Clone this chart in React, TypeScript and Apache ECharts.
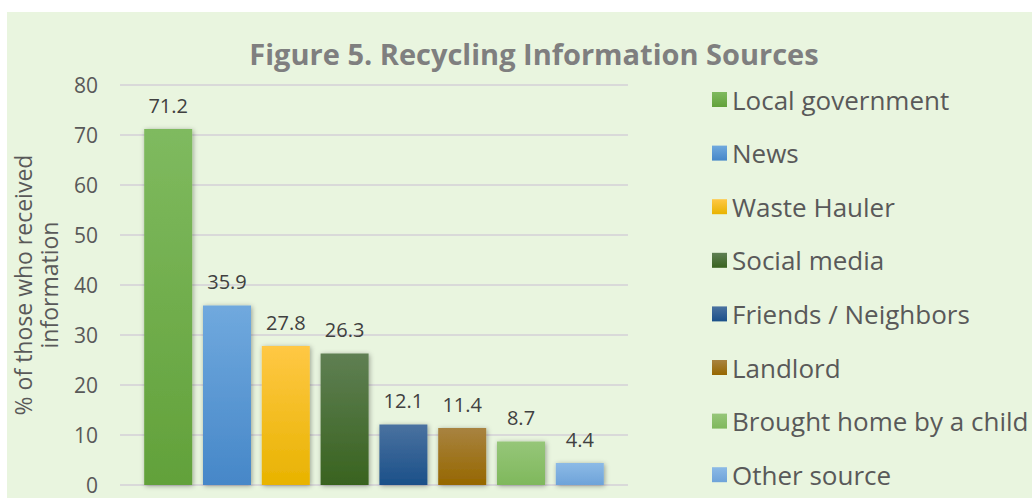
import React, { useEffect, useRef } from "react";
import * as echarts from "echarts";

const titleText = "Figure 5. Recycling Information Sources";
const yAxisTitle = "% of those who received\ninformation";
const sources = [
  "Local government",
  "News",
  "Waste Hauler",
  "Social media",
  "Friends / Neighbors",
  "Landlord",
  "Brought home by a child",
  "Other source",
];
const values = [71.2, 35.9, 27.8, 26.3, 12.1, 11.4, 8.7, 4.4];
const topColors = ["#7fba5f", "#70a9de", "#ffc845", "#5f7f53", "#4a72a0", "#a88340", "#96c679", "#8cbae6"];
const bottomColors = ["#62a13a", "#4687c8", "#e8b300", "#39631f", "#1b5089", "#966700", "#7fb85c", "#6ea3d9"];

const FONT = "'Open Sans', 'Noto Sans', sans-serif";

export default function App() {
  const ref = useRef<HTMLDivElement>(null);
  useEffect(() => {
    if (!ref.current) return;
    const chart = echarts.init(ref.current, undefined, { renderer: "svg" });
    const series = sources.map((name, i) => ({
      name,
      type: "bar",
      data: [values[i]],
      barWidth: 48,
      barGap: "22.5%",
      itemStyle: {
        color: new echarts.graphic.LinearGradient(0, 0, 0, 1, [
          { offset: 0, color: topColors[i] },
          { offset: 1, color: bottomColors[i] },
        ]),
        shadowBlur: 5,
        shadowOffsetX: 1,
        shadowOffsetY: 1,
        shadowColor: "rgba(0,0,0,0.35)",
      },
      label: {
        show: true,
        position: "top",
        distance: 14,
        fontFamily: FONT,
        fontSize: 20,
        color: "#404040",
      },
    }));
    chart.setOption({
      animation: false,
      backgroundColor: "#e9f5df",
      title: {
        text: titleText,
        left: 522,
        top: 22,
        textAlign: "center",
        textStyle: { fontFamily: FONT, fontSize: 29, fontWeight: "bold", color: "#7f7f7f" },
      },
      grid: { left: 113, top: 73, width: 508, height: 400 },
      legend: {
        orient: "vertical",
        left: 705,
        top: 74,
        height: 420,
        padding: 0,
        itemWidth: 15,
        itemHeight: 15,
        itemGap: 26.6,
        itemTextGap: 6,
        icon: "rect",
        textStyle: { fontFamily: FONT, fontSize: 26, color: "#595959", lineHeight: 27 },
        data: sources,
      },
      xAxis: {
        type: "category",
        data: [""],
        axisLine: { show: false },
        axisTick: { show: false },
        axisLabel: { show: false },
      },
      yAxis: {
        type: "value",
        min: 0,
        max: 80,
        interval: 10,
        name: yAxisTitle,
        nameLocation: "middle",
        nameRotate: 90,
        nameGap: 58,
        nameTextStyle: { fontFamily: FONT, fontSize: 23, color: "#595959", lineHeight: 26 },
        axisLine: { show: false },
        axisTick: { show: false },
        axisLabel: { fontFamily: FONT, fontSize: 21, color: "#595959", margin: 22 },
        splitLine: { lineStyle: { color: "#d9d9d9", width: 2 } },
      },
      series,
    });
    return () => chart.dispose();
  }, []);
  return (
    <div style={{ position: "fixed", left: 0, top: 0, width: 1032, height: 498, background: "#ffffff" }}>
      <div ref={ref} style={{ position: "absolute", left: 7, top: 12, width: 1025, height: 486 }} />
    </div>
  );
}
